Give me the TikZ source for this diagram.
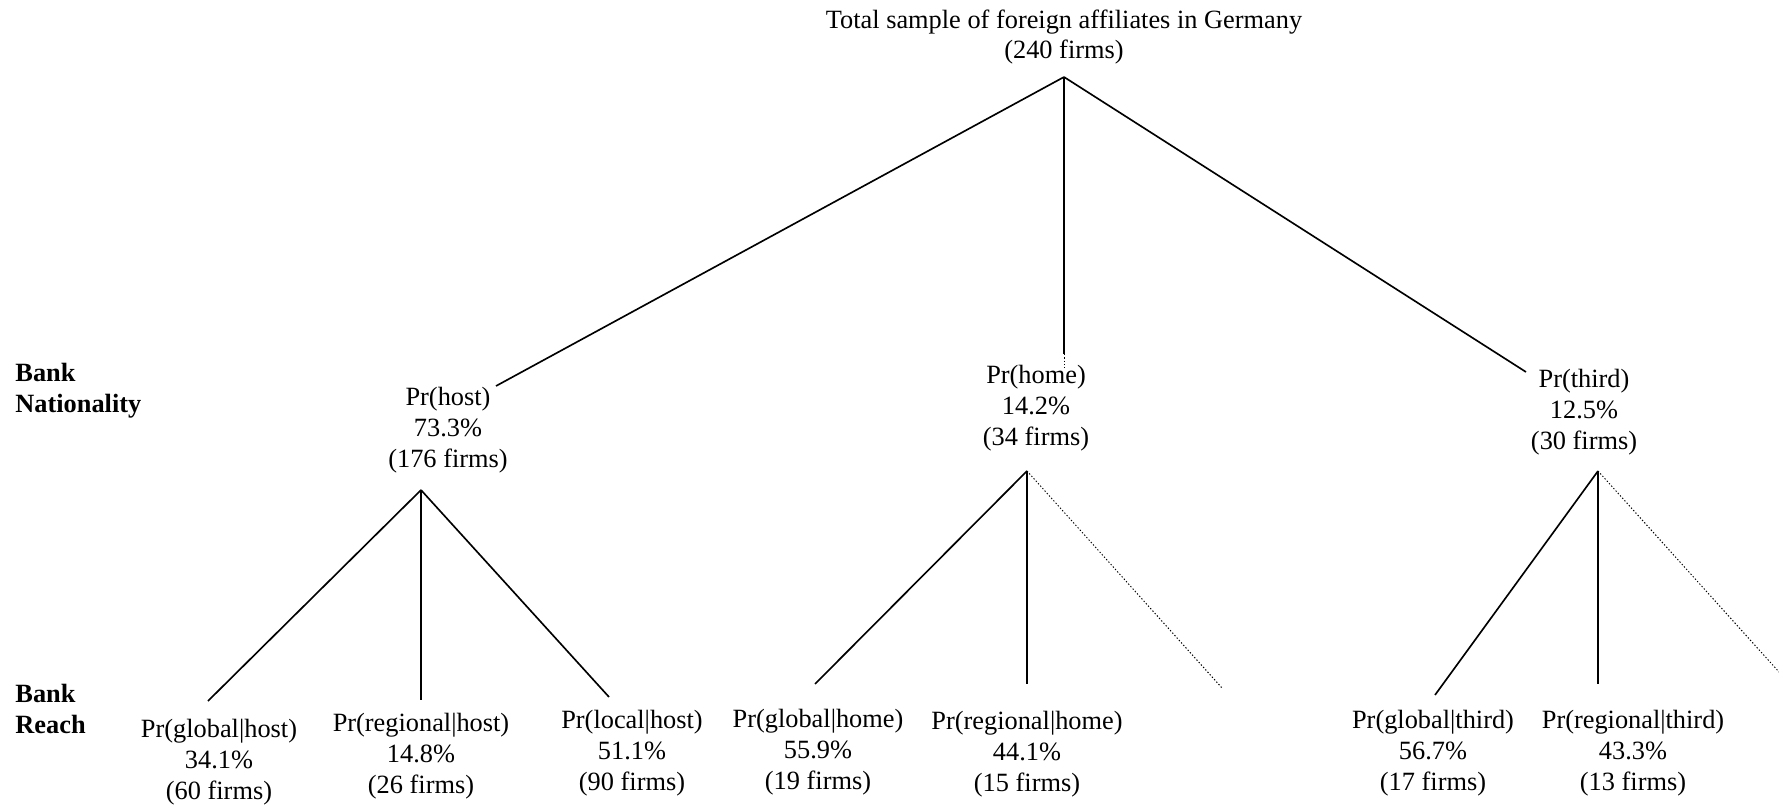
\documentclass[tikz,border=0pt]{standalone}
\usepackage{fontspec}
\setmainfont{Liberation Serif}
\tikzstyle{prob}=[align=center,inner sep=0pt,font=\fontsize{12}{14}\selectfont]
\tikzstyle{level}=[align=left,anchor=west,inner sep=0pt,font=\fontsize{12}{14}\selectfont\bfseries]
\tikzstyle{branch}=[draw,line width=0.75pt]
\tikzstyle{open}=[draw,line width=0.45pt,dash pattern=on 0.6pt off 0.9pt]

\begin{document}
\begin{tikzpicture}[x=0.016cm,y=-0.016cm]
    \useasboundingbox (0,0) rectangle (1779,806);

    % row labels
    \node[level] (nat) at (15,391) {Bank\\Nationality};
    \node[level] (reach) at (15,709) {Bank\\Reach};

    \node[prob] (total) at (1064,37) {Total sample of foreign affiliates in Germany\\(240 firms)};

    % bank nationality
    \foreach \x/\y/\name/\txt in {448/430/host/{Pr(host)\\73.3\%\\(176 firms)},
                                  1036/408/home/{Pr(home)\\14.2\%\\(34 firms)},
                                  1584/412/third/{Pr(third)\\12.5\%\\(30 firms)}}
        \node[prob] (\name) at (\x,\y) {\txt};

    % bank reach
    \foreach \x/\y/\name/\txt in {219/762/gh/{Pr(global|host)\\34.1\%\\(60 firms)},
                                  421/756/rh/{Pr(regional|host)\\14.8\%\\(26 firms)},
                                  632/753/lh/{Pr(local|host)\\51.1\%\\(90 firms)},
                                  818/752/gm/{Pr(global|home)\\55.9\%\\(19 firms)},
                                  1027/754/rm/{Pr(regional|home)\\44.1\%\\(15 firms)},
                                  1433/753/gt/{Pr(global|third)\\56.7\%\\(17 firms)},
                                  1633/753/rt/{Pr(regional|third)\\43.3\%\\(13 firms)}}
        \node[prob] (\name) at (\x,\y) {\txt};

    % branch ends
    \foreach \x/\y/\name in {1064/77/total-out, 496/386/host-in, 1064/354/home-in, 1064/369/home-dot,
                             1526/372/third-in, 421/490/host-out, 1027/471/home-out, 1598/471/third-out,
                             208/701/gh-in, 421/700/rh-in, 609/697/lh-in, 815/684/gm-in, 1027/684/rm-in,
                             1222/688/lm-in, 1435/695/gt-in, 1598/684/rt-in, 1779/672/lt-in}
        \coordinate (\name) at (\x,\y);

    \foreach \source/\dest in {total-out/host-in, total-out/home-in, total-out/third-in,
                               host-out/gh-in, host-out/rh-in, host-out/lh-in,
                               home-out/gm-in, home-out/rm-in,
                               third-out/gt-in, third-out/rt-in}
        \path[branch] (\source) -- (\dest);

    \foreach \source/\dest in {home-in/home-dot, home-out/lm-in, third-out/lt-in}
        \path[open] (\source) -- (\dest);

\end{tikzpicture}
\end{document}
